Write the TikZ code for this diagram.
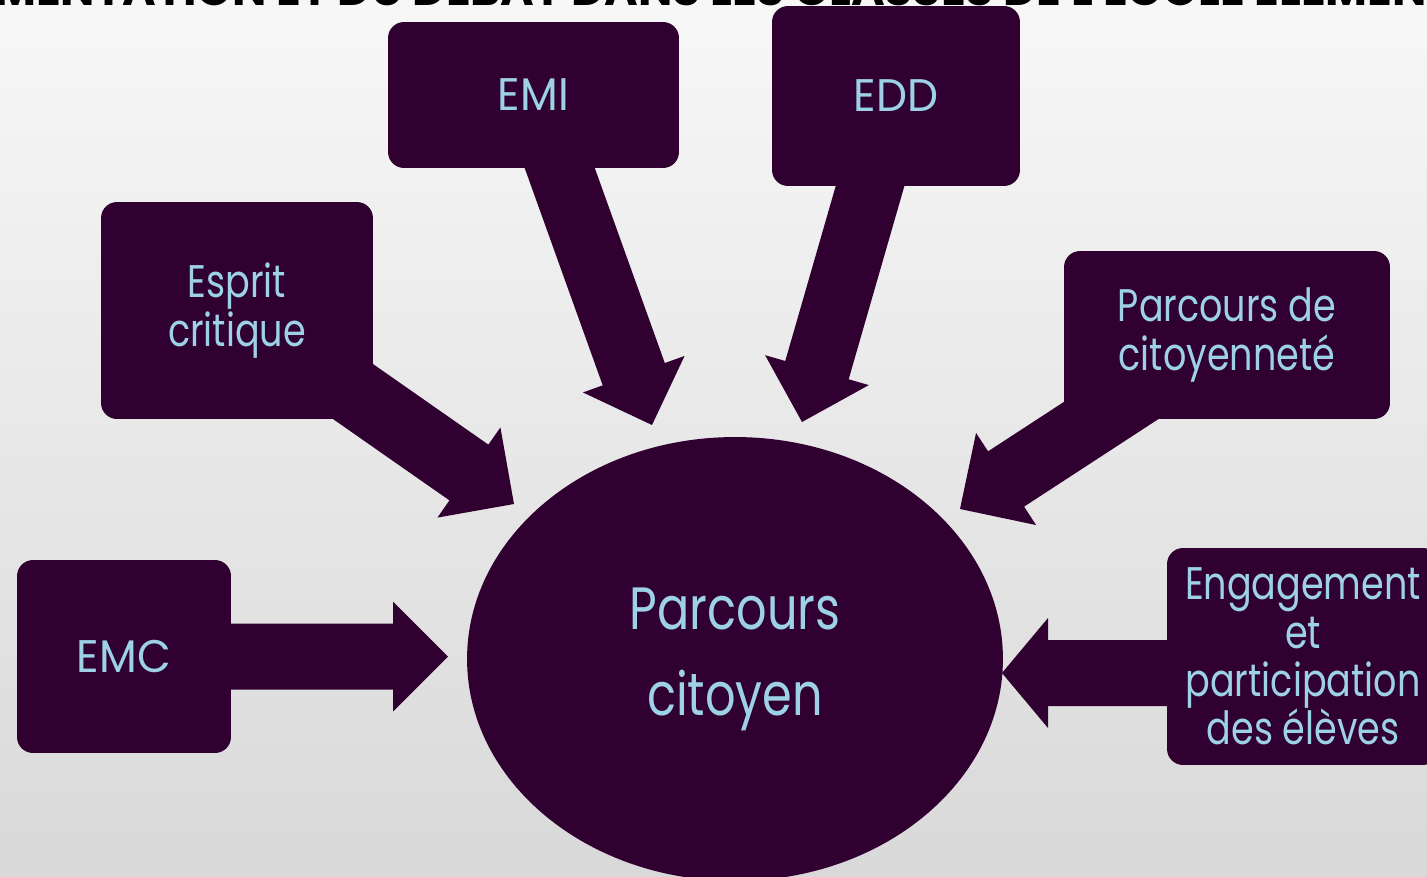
\documentclass[tikz,border=0pt]{standalone}
\usepackage{fontspec}
\setmainfont{Poppins}[FakeStretch=0.8]
\newfontfamily\titlefont{Poppins}
\newfontfamily\capsfont{Poppins}[FakeStretch=0.96]
\usetikzlibrary{calc,shapes.geometric,backgrounds}

\definecolor{plum}{HTML}{300030}
\definecolor{skyblue}{HTML}{9DD1E6}

\pgfdeclarelayer{canvas}
\pgfsetlayers{canvas,background,main}

% block arrow: from, to, shaft half width, head half width, head length
\newcommand\blockarrow[5]{%
  \fill[arrowbody] ($(#1)!#3!90:(#2)$)
    -- ($(#2)!#5!(#1)!#3!-90:(#1)$)
    -- ($(#2)!#5!(#1)!#4!-90:(#1)$)
    -- (#2)
    -- ($(#2)!#5!(#1)!#4!90:(#1)$)
    -- ($(#2)!#5!(#1)!#3!90:(#1)$)
    -- ($(#1)!#3!-90:(#2)$) -- cycle;}

\tikzset{
  box/.style={fill=plum, text=skyblue, rounded corners=0.32cm, align=center,
    inner sep=0pt, font=\fontsize{26}{27.5}\selectfont},
  capsbox/.style={box, font=\capsfont\fontsize{26}{27.5}\selectfont},
  hub/.style={ellipse, fill=plum, text=skyblue, align=center, inner sep=0pt,
    minimum width=10.72cm, minimum height=8.88cm,
    font=\fontsize{34}{49}\selectfont},
  arrowbody/.style={fill=plum},
}

\begin{document}
\begin{tikzpicture}[x=0.02cm, y=-0.02cm]
  \useasboundingbox (0,0) rectangle (1427,876);
  \clip (0,0) rectangle (1427,876);
  \begin{pgfonlayer}{canvas}
    \shade[top color=white!97!black, bottom color=white!85!black]
      (0,0) rectangle (1427,876);
  \end{pgfonlayer}

  % title line, cut by the top edge
  \node[anchor=base west, inner sep=0pt, font=\titlefont\bfseries\fontsize{26}{26}\selectfont]
    (title) at (-6,5) {MENTATION ET DU DEBAT DANS LES CLASSES DE L'ECOLE ELEMENTAIRE};

  % centre
  \node[hub] (parcours) at (735,659) {Parcours\\citoyen};

  % boxes
  \node[capsbox, minimum width=5.82cm, minimum height=2.92cm] (emi) at (533.5,95) {EMI};
  \node[capsbox, minimum width=4.96cm, minimum height=3.6cm] (edd) at (896,96) {EDD};
  \node[box, minimum width=5.44cm, minimum height=4.34cm] (esprit) at (237,310.5) {Esprit\\critique};
  \node[box, minimum width=6.52cm, minimum height=3.36cm] (citoy) at (1227,335) {Parcours de\\citoyennet\'e};
  \node[capsbox, minimum width=4.28cm, minimum height=3.86cm] (emc) at (124,656.5) {EMC};
  \node[box, minimum width=5.44cm, minimum height=4.34cm] (engage) at (1303,656.5)
    {Engagement\\et\\participation\\des \'el\`eves};

  % arrow tips
  \coordinate (tEsprit) at (514,504);
  \coordinate (tEmi) at (652,425);
  \coordinate (tEdd) at (802,422);
  \coordinate (tCitoy) at (960,509);
  \coordinate (tEmc) at (448,656.5);
  \coordinate (sEngage) at ($(engage.center)+(0,16.5)$);
  \coordinate (tEngage) at (1002,673);

  \begin{pgfonlayer}{background}
    \blockarrow{esprit.center}{tEsprit}{0.68cm}{1.1cm}{1.1cm}
    \blockarrow{emi.center}{tEmi}{0.66cm}{1.08cm}{1.08cm}
    \blockarrow{edd.center}{tEdd}{0.66cm}{1.08cm}{1.08cm}
    \blockarrow{citoy.center}{tCitoy}{0.66cm}{1.1cm}{1.1cm}
    \blockarrow{emc.center}{tEmc}{0.66cm}{1.1cm}{1.1cm}
    \blockarrow{sEngage}{tEngage}{0.66cm}{1.1cm}{0.92cm}
  \end{pgfonlayer}
\end{tikzpicture}
\end{document}
